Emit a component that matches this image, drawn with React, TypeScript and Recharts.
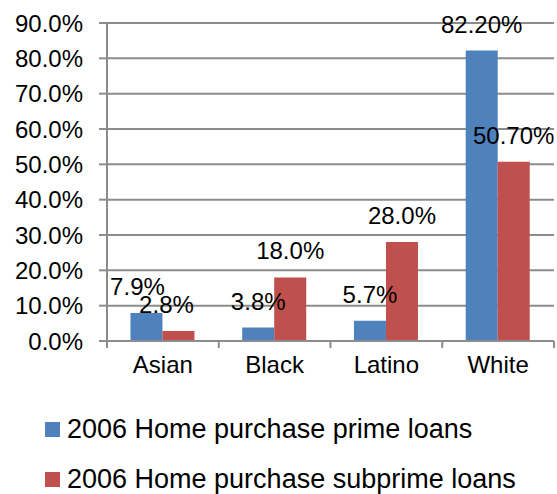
import React from 'react'
import { BarChart, Bar, XAxis, YAxis, CartesianGrid, Legend, LabelList } from 'recharts'

const categories = ['Asian', 'Black', 'Latino', 'White']
const primeLoans = [7.9, 3.8, 5.7, 82.2]
const subprimeLoans = [2.8, 18.0, 28.0, 50.7]
const primeLabels = ['7.9%', '3.8%', '5.7%', '82.20%']
const subprimeLabels = ['2.8%', '18.0%', '28.0%', '50.70%']
const yTicks = [0, 10, 20, 30, 40, 50, 60, 70, 80, 90]

const seriesNames = ['2006 Home purchase prime loans', '2006 Home purchase subprime loans']

// label nudges, the Asian pair was moved by hand in the original
const primeNudge = [-9, 0, 0, 0]
const subprimeNudge = [-12, 0, 0, 0]

const W = 557
const H = 494
const M = { top: 23, right: 3, left: 0, bottom: 113 }
const Y_AXIS_W = 107
const X_AXIS_H = 40
const AXIS_Y = H - M.bottom - X_AXIS_H
const BAND = (W - M.left - M.right - Y_AXIS_W) / categories.length

const GRAY = '#8c8c8c'
const FONT = '"Liberation Sans", Arial, sans-serif'

const data = categories.map((name, i) => ({
  name,
  prime: primeLoans[i],
  subprime: subprimeLoans[i],
  primeLabel: primeLabels[i],
  subprimeLabel: subprimeLabels[i],
}))

function CategoryTick(props: any) {
  const { x, payload, index } = props
  const last = index === categories.length - 1
  return (
    <g>
      <line x1={x - BAND / 2} x2={x - BAND / 2} y1={AXIS_Y} y2={AXIS_Y + 7} stroke={GRAY} strokeWidth={2} />
      {last && <line x1={x + BAND / 2} x2={x + BAND / 2} y1={AXIS_Y} y2={AXIS_Y + 7} stroke={GRAY} strokeWidth={2} />}
      <text x={x} y={AXIS_Y + 32} textAnchor="middle" fontSize={24} fontFamily={FONT} fill="#000">
        {payload.value}
      </text>
    </g>
  )
}

function makeLabel(nudge: number[]) {
  return (props: any) => {
    const { x, y, width, value, index } = props
    return (
      <text
        x={x + width / 2 + (nudge[index] || 0)}
        y={y - 18}
        textAnchor="middle"
        fontSize={24}
        fontFamily={FONT}
        fill="#000"
      >
        {value}
      </text>
    )
  }
}

function LegendBox(props: any) {
  const { payload } = props
  return (
    <div style={{ fontFamily: FONT, fontSize: 27, color: '#000' }}>
      {(payload || []).map((entry: any) => (
        <div key={entry.value} style={{ display: 'flex', alignItems: 'center', height: 50, whiteSpace: 'nowrap' }}>
          <span style={{ width: 15, height: 15, background: entry.color, marginRight: 7, display: 'inline-block' }} />
          <span>{entry.value}</span>
        </div>
      ))}
    </div>
  )
}

export default function App() {
  return (
    <div style={{ position: 'absolute', top: 0, left: 0, background: '#fff' }}>
      <BarChart width={W} height={H} data={data} margin={M} barCategoryGap="21%" barGap={0}>
        <CartesianGrid vertical={false} stroke={GRAY} strokeWidth={2} />
        <XAxis
          dataKey="name"
          height={X_AXIS_H}
          axisLine={{ stroke: GRAY, strokeWidth: 2 }}
          tickLine={false}
          tick={<CategoryTick />}
          interval={0}
        />
        <YAxis
          width={Y_AXIS_W}
          domain={[0, 90]}
          ticks={yTicks}
          interval={0}
          tickFormatter={(v: number) => `${v.toFixed(1)}%`}
          axisLine={{ stroke: GRAY, strokeWidth: 2 }}
          tickLine={{ stroke: GRAY, strokeWidth: 2 }}
          tickSize={8}
          tickMargin={16}
          tick={{ fontSize: 24, fontFamily: FONT, fill: '#000' }}
        />
        <Legend
          layout="vertical"
          align="center"
          verticalAlign="middle"
          wrapperStyle={{ left: 45, top: 404, width: 512 }}
          content={<LegendBox />}
        />
        <Bar dataKey="prime" name={seriesNames[0]} fill="#4F81BD" isAnimationActive={false}>
          <LabelList dataKey="primeLabel" content={makeLabel(primeNudge)} />
        </Bar>
        <Bar dataKey="subprime" name={seriesNames[1]} fill="#C0504D" isAnimationActive={false}>
          <LabelList dataKey="subprimeLabel" content={makeLabel(subprimeNudge)} />
        </Bar>
      </BarChart>
    </div>
  )
}
